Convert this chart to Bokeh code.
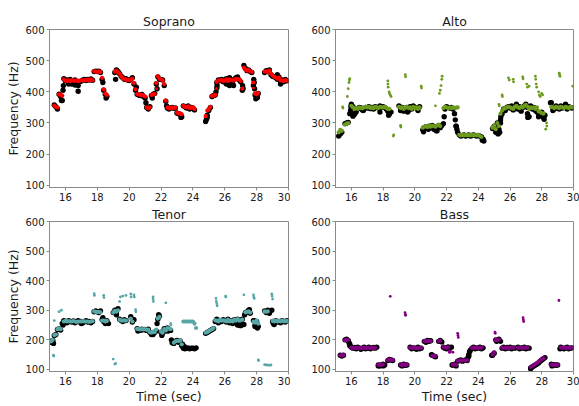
from bokeh.plotting import figure
from bokeh.layouts import gridplot
from bokeh.models import FixedTicker, Range1d
from bokeh.embed import file_html
from bokeh.resources import INLINE

N = None
# frame times: 15.0 .. 29.9 s, one value per 0.1 s frame
FRAME_START = 15.0
FRAME_STEP = 0.1

voices = ["Soprano", "Alto", "Tenor", "Bass"]

# ---------------- Soprano ----------------
sop_ref = [
    N, N, N, 358, 352, 345, 392, 385, 372, 442,
    435, 438, 430, 440, 425, 432, 438, 428, 420, 432,
    435, 438, 440, 436, 440, 438, 441, 437, 465, 466,
    465, 466, 462, 440, 405, 392, 385, N, N, N,
    N, 462, 470, 465, 458, 450, 445, 440, 442, 438,
    436, 440, 445, 425, 405, 392, 390, 388, 392, 385,
    380, 350, 345, 352, 388, 392, 395, 425, 448, 440,
    440, 438, 420, 370, 348, 345, 348, 350, 347, 348,
    332, 330, 328, 320, 355, 352, 348, 355, 345, 350,
    348, 342, N, N, N, N, N, N, 305, 318,
    340, 350, 385, 388, 390, 430, 438, 436, 440, 432,
    438, 442, 430, 445, 438, 425, 440, 445, 448, 438,
    432, 405, 485, 475, 468, 470, 465, 462, 420, 390,
    385, 395, N, N, N, 462, 468, 465, 470, 455,
    450, 448, 445, 440, 448, 435, 438, 432, 440, 435,
]
sop_est = [
    N, N, N, 356, 352, 350, 392, 390, 388, 440,
    436, 435, 437, 434, 438, 436, 435, 437, 434, 436,
    437, 436, 438, 437, 439, 438, 440, 437, 466, 465,
    464, 466, 463, 445, 408, 395, 390, N, N, N,
    N, 465, 468, 463, 458, 450, 443, 441, 440, 437,
    438, 439, 442, 428, 408, 393, 392, 390, 390, 388,
    385, 350, 347, 350, 390, 392, 393, 428, 450, 442,
    440, 437, 425, 372, 350, 347, 348, 350, 348, 349,
    333, 331, 330, 328, 355, 352, 350, 353, 348, 350,
    350, 345, N, N, N, N, N, N, 322, 340,
    345, 352, 387, 388, 390, 432, 437, 436, 438, 435,
    436, 440, 435, 440, 438, 436, 437, 442, 440, 440,
    435, 410, 478, 472, 468, 470, 466, 464, 430, 395,
    392, 396, N, N, N, 465, 466, 464, 468, 458,
    452, 448, 446, 442, 446, 437, 436, 435, 438, 436,
]
sop_ref_xt = [15.75, 15.85, 15.87, 16.2, 16.6, 16.8, 18.35, 18.55, 19.15, 20.45, 21.05, 21.45,
              21.75, 22.35, 23.25, 24.85, 24.9, 25.45, 25.5, 25.52, 26.1, 26.3, 26.55, 27.12,
              27.15, 27.82, 27.85, 27.87, 27.95, 28.05, 29.3, 29.5]
sop_ref_xf = [372, 405, 420, 425, 422, 402, 430, 380, 440, 415, 365, 380,
              410, 355, 318, 312, 325, 400, 412, 420, 425, 420, 420, 420,
              410, 440, 430, 410, 378, 382, 455, 425]
sop_est_xt = [21.72, 25.48, 27.8]
sop_est_xf = [410, 410, 412]

# ---------------- Alto ----------------
alto_ref = [
    N, N, 258, 265, 270, N, 298, 300, 302, 330,
    360, 352, 328, 335, 345, 350, 348, 342, 345, 350,
    348, 352, 346, 350, 345, 352, 350, 348, 355, 350,
    352, 350, 345, 338, 330, 335, N, N, N, N,
    355, 345, 350, 338, 345, 350, 340, 352, 345, 355,
    350, 348, 340, 352, N, 278, 285, 288, 282, 290,
    285, 292, 280, 288, 275, 290, 285, 292, 298, 345,
    352, 350, 348, 350, 345, 330, 290, 270, 262, 258,
    260, 262, 258, 260, 262, 258, 260, 262, 260, 258,
    260, 258, 255, 248, N, N, N, N, N, 282,
    290, 270, 300, 280, 300, 330, 345, 340, 350, 352,
    348, 355, 342, 350, 360, 345, 352, 338, 350, 355,
    360, 350, 320, 355, 345, 350, 340, 335, 330, 325,
    335, 318, 325, N, N, N, 365, 350, 345, 355,
    350, 345, 355, 348, 350, 360, 345, 352, 350, 348,
]
alto_est = [
    N, N, 270, 278, 275, N, 295, 298, 300, N,
    355, 350, 345, 348, 345, 350, 348, 347, 350, 352,
    350, 352, 348, 350, 347, 352, 350, 348, 352, 350,
    350, 352, 348, 345, 345, N, N, N, N, N,
    352, 348, 350, 345, 350, 352, 348, 350, 345, 352,
    348, 350, 345, 350, N, 285, 288, 290, 287, 292,
    288, 292, 290, 288, 292, 295, 290, N, 348, 352,
    350, 348, 350, 348, 350, 348, 349, 350, 262, 260,
    262, 260, 262, 260, 262, 260, 262, 260, 262, 260,
    262, 258, 255, N, N, N, N, N, N, 285,
    292, 280, 300, 290, 330, 340, 345, 348, 350, 352,
    350, 348, 345, 352, 355, 350, 348, 352, 350, 355,
    358, 352, 345, 350, 348, 350, 345, 350, 338, 335,
    332, 330, N, N, N, N, 352, 350, 348, 352,
    350, 348, 352, 350, 348, 352, 350, 348, 352, 350,
]
alto_ref_xt = [15.95, 15.97, 16.05, 16.1, 16.75, 17.8, 18.35, 18.45, 19.1, 19.55, 20.55, 20.85,
               21.35, 21.85, 22.55, 22.6, 22.65, 24.25, 24.35, 25.25, 25.35, 25.4, 25.42,
               27.1, 27.12, 27.8, 28.15, 28.55, 28.7]
alto_ref_xf = [340, 352, 330, 322, 340, 335, 325, 335, 340, 335, 272, 280,
               275, 320, 310, 290, 280, 245, 242, 265, 270, 310, 320,
               330, 318, 320, 312, 365, 340]
alto_est_xt = [15.45, 15.47, 15.75, 15.8, 15.85, 15.88, 15.9, 18.3, 18.3, 18.32, 18.38, 18.4,
               18.45, 18.5, 18.65, 18.67, 19.1, 19.12, 19.4, 19.42, 20.4, 20.42, 21.3, 21.55,
               21.6, 21.65, 21.7, 21.72, 25.3, 25.32, 25.5, 25.52, 25.9, 25.95, 26.2, 26.22,
               26.8, 26.82, 27.05, 27.1, 27.2, 27.6, 27.62, 27.65, 27.68, 27.8, 27.85, 27.9,
               28.0, 28.05, 28.25, 28.3, 28.32, 29.1, 29.12, 29.15, 29.95]
alto_est_xf = [352, 348, 385, 410, 430, 438, 442, 435, 425, 415, 400, 395,
               390, 385, 258, 262, 292, 287, 455, 448, 418, 412, 355, 395,
               405, 420, 440, 450, 360, 355, 390, 385, 445, 438, 440, 432,
               448, 442, 425, 415, 418, 450, 440, 425, 415, 400, 390, 385,
               395, 390, 280, 300, 290, 460, 455, 450, 418]

# ---------------- Tenor ----------------
ten_ref = [
    N, 192, 198, 215, 218, 235, 237, 233, 255, 265,
    262, 258, 265, 262, 260, 264, 258, 262, 265, 260,
    262, 258, 262, 265, 260, 262, 258, 262, 295, 298,
    295, 292, 298, 268, 262, 255, 265, N, N, N,
    292, 300, 288, 305, 270, 265, 262, 268, 265, N,
    N, 278, 260, 268, N, 238, 235, 232, 236, 234,
    235, 232, 236, 225, 222, 218, 225, 230, 270, 280,
    226, 222, 238, 230, 240, 235, 232, 190, 188, 195,
    198, 192, 196, 180, 172, 170, 172, 173, 170, 172,
    172, 170, 173, N, N, N, N, N, 222, 225,
    228, 232, 235, 238, 262, 270, 258, 265, 262, 268,
    265, 260, 270, 258, 265, 255, 268, 262, 270, 250,
    262, 270, 252, 292, 295, 300, 290, N, 265, 250,
    262, 245, N, N, N, 298, 292, 300, 290, N,
    262, 255, 265, 260, 262, 258, 265, 262, 260, 265,
]
ten_est = [
    N, 195, 200, 216, 218, 236, 238, 236, N, 262,
    264, 262, 263, 262, 262, 263, 262, 261, 262, 262,
    262, 263, 262, 262, 262, 261, 262, 263, 296, 295,
    294, 295, 293, 265, 265, 262, 264, N, N, N,
    292, 298, 295, 300, 268, 265, 265, 266, 265, N,
    N, 272, 262, N, N, 237, 236, 235, 236, 235,
    236, 234, 235, 226, 224, 228, 226, 235, 272, 278,
    228, 224, 236, 232, 240, 238, 236, N, 190, 195,
    197, 196, 198, 185, 262, 262, 262, 262, 262, 262,
    262, 255, 240, N, N, N, N, N, 224, 226,
    230, 233, 236, 240, 266, 265, 262, 268, 265, 266,
    265, 262, 268, 262, 265, 262, 268, 265, 270, 265,
    266, 268, N, 293, 295, 296, 292, N, 262, 258,
    265, 255, N, N, N, 296, 295, 296, N, N,
    264, 262, 265, 262, 264, 262, 265, 263, 262, 264,
]
ten_ref_xt = [15.2, 15.25, 15.85, 15.9, 17.0, 18.35, 18.7, 19.2, 20.25, 20.55, 21.4, 21.75,
              21.85, 22.05, 22.45, 22.65, 23.35, 23.45, 26.8, 27.0, 27.25, 27.55, 27.85,
              27.9, 28.05, 28.95, 29.05, 29.1]
ten_ref_xf = [198, 188, 250, 258, 255, 275, 255, 285, 268, 230, 218, 255,
              285, 215, 230, 200, 185, 178, 250, 248, 285, 302, 265,
              245, 240, 300, 255, 252]
ten_est_xt = [15.25, 15.27, 15.3, 15.6, 15.75, 17.8, 17.82, 18.4, 18.42, 19.0, 19.1, 19.15,
              19.4, 19.45, 19.6, 19.8, 20.1, 20.12, 20.3, 20.32, 20.4, 20.42, 21.5, 21.5,
              21.52, 22.3, 22.6, 22.62, 25.45, 25.47, 25.5, 25.52, 26.05, 26.07, 27.2,
              27.8, 27.82, 27.85, 28.1, 28.12, 28.5, 28.6, 28.7, 28.8, 28.9, 28.95, 28.97, 29.0]
ten_est_xf = [148, 145, 265, 295, 300, 356, 350, 350, 343, 135, 118, 120,
              330, 345, 348, 350, 355, 345, 352, 345, 302, 295, 345, 338,
              330, 325, 255, 250, 340, 330, 322, 315, 348, 345, 352,
              352, 345, 340, 132, 130, 116, 115, 115, 114, 115, 355, 348, 338]

# ---------------- Bass ----------------
bass_ref = [
    N, N, N, 148, 145, 148, 200, 202, 198, 185,
    175, 172, 174, 170, 175, 173, 168, 172, 175, 170,
    172, 175, 170, 173, 174, 172, 175, 115, 112, 116,
    118, 115, N, 130, 134, 132, 130, N, N, N,
    N, 115, 112, 118, 114, 115, N, 175, 170, 173,
    172, 168, 175, 170, 172, N, 195, 192, 198, 195,
    197, 148, 145, 143, N, 195, 198, 193, 175, 172,
    170, 176, 172, 175, 115, 118, 112, 128, 130, 132,
    128, 130, 132, 130, 145, 165, 172, 175, 170, 173,
    172, 175, 170, 173, N, N, N, N, N, 148,
    155, 200, 198, 202, 195, 172, 175, 170, 174, 172,
    175, 170, 173, 172, N, 175, 170, 173, 172, 175,
    170, 173, 172, 105, 108, 112, 115, 118, 122, 128,
    132, 136, 140, N, N, N, 118, 115, 116, 114,
    115, N, 175, 172, 170, 173, 175, 170, 172, 173,
]
bass_est = [
    N, N, N, 148, 147, 149, 199, 200, 201, N,
    174, 173, 174, 172, 174, 173, 172, 173, 174, 172,
    173, 174, 172, 173, 174, 173, N, 116, 115, 116,
    117, N, N, 132, 133, 133, 132, N, N, N,
    N, 116, 114, 117, 115, 116, N, 174, 173, 173,
    174, 172, 173, 174, 173, N, 196, 195, 197, 196,
    196, 146, 145, 146, N, 196, 197, N, 176, 174,
    173, 175, 160, N, 116, 117, 115, 129, 130, 131,
    130, 131, 130, 131, N, N, 173, 174, 173, 174,
    174, 173, 174, N, N, N, N, N, N, 150,
    158, 199, 200, 201, N, 174, 173, 174, 173, 174,
    173, 174, 173, N, N, 174, 173, 174, 173, 174,
    173, 174, N, 108, 112, 115, 118, 122, 126, 130,
    134, 138, N, N, N, N, 116, 115, 116, 115,
    116, N, 174, 173, 174, 173, 174, 173, 174, 173,
]
bass_ref_xt = [15.85, 15.9, 17.7, 18.0, 21.05, 22.35, 23.35, 23.4, 23.45, 24.85, 25.15,
               27.3, 28.65, 29.15]
bass_ref_xf = [190, 180, 112, 112, 150, 115, 140, 150, 160, 148, 195,
               102, 112, 170]
bass_est_xt = [18.45, 19.38, 19.4, 19.42, 22.4, 22.7, 22.72, 22.74, 25.05, 25.07, 26.82,
               26.84, 26.86, 29.08]
bass_est_xf = [347, 292, 286, 283, 158, 222, 215, 208, 226, 222, 275,
               268, 262, 333]

x_ticks = [16, 18, 20, 22, 24, 26, 28, 30]
y_ticks = [100, 200, 300, 400, 500, 600]

est_colors = ["#ff0000", "#6b9a1e", "#58a7a7", "#800080"]
ref_data = [sop_ref, alto_ref, ten_ref, bass_ref]
est_data = [sop_est, alto_est, ten_est, bass_est]
ref_extra = [(sop_ref_xt, sop_ref_xf), (alto_ref_xt, alto_ref_xf), (ten_ref_xt, ten_ref_xf), (bass_ref_xt, bass_ref_xf)]
est_extra = [(sop_est_xt, sop_est_xf), (alto_est_xt, alto_est_xf), (ten_est_xt, ten_est_xf), (bass_est_xt, bass_est_xf)]

FONT = "DejaVu Sans"
GRAY = "#8a8a8a"
TEXT = "#1a1a1a"


def frames(series):
    ts, fs = [], []
    for i, f in enumerate(series):
        if f is not None:
            ts.append(round(FRAME_START + FRAME_STEP * i, 2))
            fs.append(f)
    return ts, fs


def make(idx):
    left = idx % 2 == 0
    bottom = idx >= 2
    w = 290 if left else 289
    h = 204 if not bottom else 202
    p = figure(width=w, height=h, output_backend="svg", toolbar_location=None,
               x_range=Range1d(15, 30), y_range=Range1d(93, 600),
               min_border_left=49 if left else 45, min_border_right=2 if left else 6,
               min_border_top=29 if not bottom else 15,
               min_border_bottom=17 if not bottom else 28)
    p.title.text = voices[idx]
    p.title.align = "center"
    p.title.text_font = FONT
    p.title.text_font_size = "12.5px"
    p.title.text_font_style = "normal"
    p.title.text_color = TEXT
    p.title.standoff = 0 if bottom else 2
    p.xgrid.visible = False
    p.ygrid.visible = False
    p.outline_line_color = GRAY
    p.outline_line_width = 1
    for ax in (p.xaxis[0], p.yaxis[0]):
        ax.axis_line_color = GRAY
        ax.major_tick_line_color = GRAY
        ax.minor_tick_line_color = None
        ax.major_tick_in = 0
        ax.major_tick_out = 3
        ax.major_label_standoff = 2
        ax.major_label_text_font = FONT
        ax.major_label_text_font_size = "10px"
        ax.major_label_text_color = TEXT
        ax.axis_label_text_font = FONT
        ax.axis_label_text_font_size = "12.5px"
        ax.axis_label_text_font_style = "normal"
        ax.axis_label_text_color = TEXT
        ax.axis_label_standoff = 1
    p.xaxis.ticker = FixedTicker(ticks=x_ticks)
    p.yaxis.ticker = FixedTicker(ticks=y_ticks)
    if left:
        p.yaxis.axis_label = "Frequency (Hz)"
    if bottom:
        p.xaxis.axis_label = "Time (sec)"

    rt, rf = frames(ref_data[idx])
    rt += ref_extra[idx][0]
    rf += ref_extra[idx][1]
    p.scatter(rt, rf, size=5.4, color="black", line_width=0)
    et, ef = frames(est_data[idx])
    p.scatter(et, ef, size=4.2, color=est_colors[idx], line_width=0)
    p.scatter(est_extra[idx][0], est_extra[idx][1], size=2.8, color=est_colors[idx], line_width=0)
    return p


plots = [make(i) for i in range(4)]
grid = gridplot([[plots[0], plots[1]], [plots[2], plots[3]]], toolbar_location=None)

open("out.html", "w").write(file_html(grid, INLINE))
